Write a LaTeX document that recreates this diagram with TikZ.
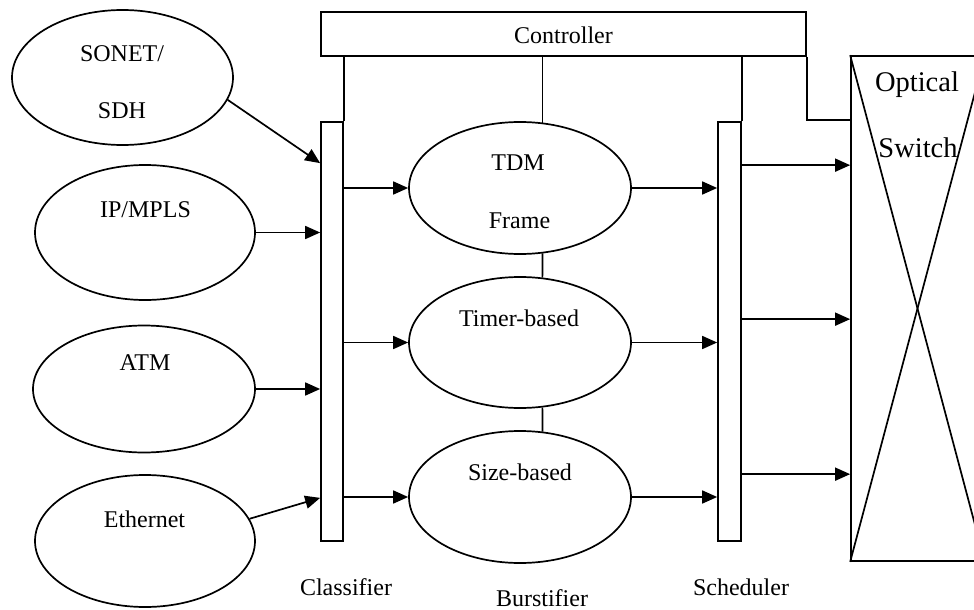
\documentclass[tikz,border=0pt]{standalone}
\usepackage{fontspec}
\setmainfont{Liberation Serif}
\usetikzlibrary{shapes.geometric,arrows.meta,calc}
\begin{document}
\begin{tikzpicture}[x=1pt,y=-1pt,line width=1.7pt,
  lbl/.style={font=\fontsize{24}{28}\selectfont,inner sep=0pt,anchor=base},
  biglbl/.style={font=\fontsize{28.5}{32}\selectfont,inner sep=0pt,anchor=base},
  oval/.style={draw,ellipse,inner sep=0pt},
  box/.style={draw,rectangle,inner sep=0pt},
  arr/.style={-{Triangle[length=15pt,width=13pt]}}]
\useasboundingbox (0,0) rectangle (974,610);
\clip (0,0) rectangle (974,610);
% boxes
\node[box,minimum width=485,minimum height=44] (ctrl) at (563.5,34) {};
\node[box,minimum width=22,minimum height=419] (cls) at (332,331.5) {};
\node[box,minimum width=23,minimum height=419] (sch) at (729.5,331.5) {};
\node[box,minimum width=133,minimum height=505] (sw) at (917.5,308.5) {};
\draw (sw.north west) -- (sw.south east);
\draw (sw.south west) -- (sw.north east);
% ellipses
\node[oval,minimum width=221,minimum height=135] (son) at (122.5,77.5) {};
\node[oval,minimum width=220,minimum height=135] (ip) at (145,232.5) {};
\node[oval,minimum width=222,minimum height=127] (atm) at (144,389) {};
\node[oval,minimum width=220,minimum height=132] (eth) at (145,541) {};
\node[oval,minimum width=222,minimum height=132] (tdm) at (520,188) {};
\node[oval,minimum width=222,minimum height=131] (tim) at (520,342.5) {};
\node[oval,minimum width=222,minimum height=132] (siz) at (520,497) {};
% texts
\node[lbl] (tctrl) at (563.5,44) {Controller};
\node[lbl] (tson1) at (122,62) {SONET/};
\node[lbl] (tson2) at (122,118) {SDH};
\node[lbl] (tip) at (145.5,217) {IP/MPLS};
\node[lbl] (tatm) at (145,370) {ATM};
\node[lbl] (teth) at (144.5,527) {Ethernet};
\node[lbl] (ttdm1) at (518,170) {TDM};
\node[lbl] (ttdm2) at (519.5,228) {Frame};
\node[lbl] (ttim) at (519,326) {Timer-based};
\node[lbl] (tsiz) at (520,480) {Size-based};
\node[lbl] (tcls) at (346,595) {Classifier};
\node[lbl] (tbur) at (542,606) {Burstifier};
\node[lbl] (tsch) at (741,595) {Scheduler};
\node[biglbl] (topt) at (917,92) {Optical};
\node[biglbl] (tswt) at (918,157) {Switch};
% inputs to classifier
\draw[arr] (son.-12) -- ([yshift=-42pt]cls.north west);
\draw[arr] (ip.east) -- (ip.east -| cls.west);
\draw[arr] (atm.east) -- (atm.east -| cls.west);
\draw[arr] (eth.12) -- ([yshift=44pt]cls.south west);
% classifier to burstifiers
\draw[arr] (tdm.west -| cls.east) -- (tdm.west);
\draw[arr] (tim.west -| cls.east) -- (tim.west);
\draw[arr] (siz.west -| cls.east) -- (siz.west);
% burstifiers to scheduler
\draw[arr] (tdm.east) -- (tdm.east -| sch.west);
\draw[arr] (tim.east) -- (tim.east -| sch.west);
\draw[arr] (siz.east) -- (siz.east -| sch.west);
% scheduler to switch
\coordinate (o1) at ($(sch.north east)+(0,44)$);
\coordinate (o2) at ($(sch.north east)+(0,198)$);
\coordinate (o3) at ($(sch.north east)+(0,353)$);
\draw[arr] (o1) -- (o1 -| sw.west);
\draw[arr] (o2) -- (o2 -| sw.west);
\draw[arr] (o3) -- (o3 -| sw.west);
% controller links
\coordinate (k) at ($(sw.north west)+(0,65)$);
\draw (cls.north east) -- (cls.north east |- ctrl.south);
\draw (tdm.71) -- (tdm.71 |- ctrl.south);
\draw (tdm.-71) -- (tim.71);
\draw (tim.-71) -- (siz.71);
\draw (sch.north east) -- (sch.north east |- ctrl.south);
\draw (ctrl.south east) |- (k);
\end{tikzpicture}
\end{document}
